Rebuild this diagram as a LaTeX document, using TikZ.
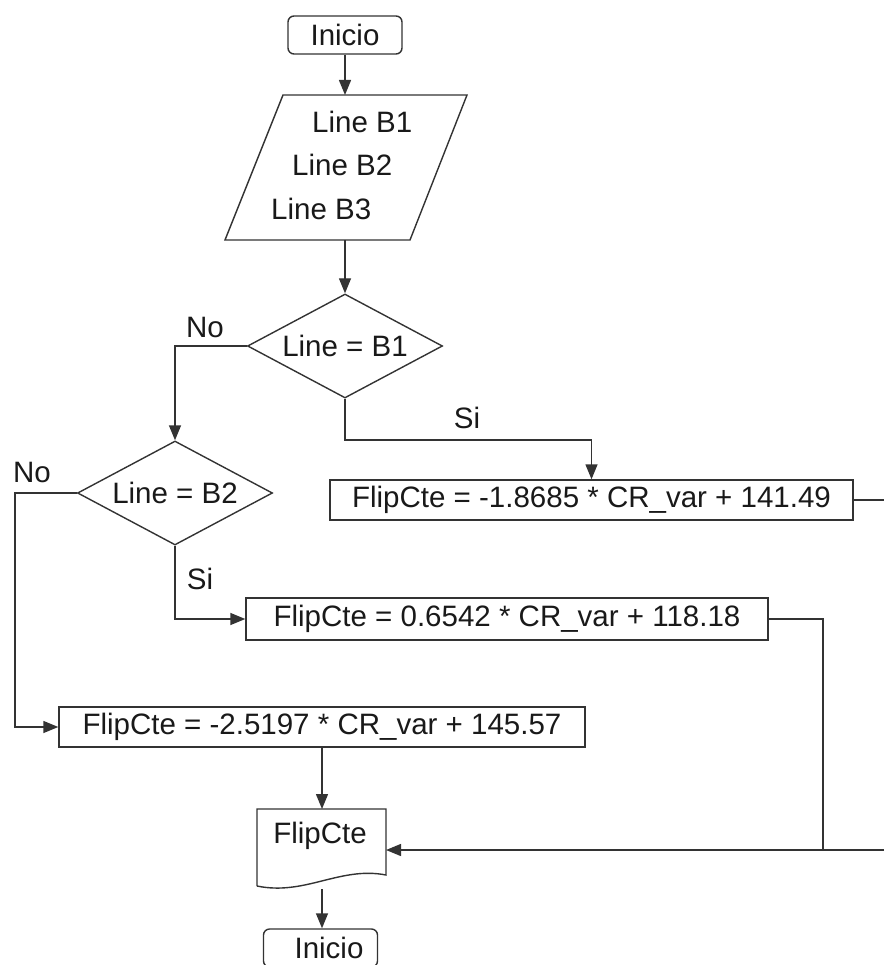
\documentclass[tikz,border=0pt]{standalone}
\usepackage{fontspec}
\setmainfont{Liberation Sans}
\usetikzlibrary{shapes.geometric,arrows.meta}
\begin{document}
\begin{tikzpicture}[x=1pt,y=-1pt,
  every node/.style={font=\fontsize{29.5}{34}\selectfont, inner sep=0pt, text=black!90},
  ln/.style={line width=1.4pt, draw=black!80},
  arr/.style={ln, -{Triangle[length=15pt,width=12pt]}},
  term/.style={ln, rounded corners=6pt, minimum width=114pt, minimum height=38pt},
  proc/.style={ln, minimum height=41pt},
  dec/.style={ln, diamond, minimum width=195pt, minimum height=104pt, aspect=1.875}]
\useasboundingbox (0,0) rectangle (884,965);
% terminal
\node[term] (start) at (345,35) {Inicio};
% input parallelogram
\draw[ln] (283,95) -- (467,95) -- (410,240) -- (225,240) -- cycle;
\coordinate (pT) at (345,95);
\coordinate (pB) at (345,240);
\node[anchor=west] (t1) at (312,122) {Line B1};
\node[anchor=west] (t2) at (292,165) {Line B2};
\node[anchor=west] (t3) at (271,209) {Line B3};
% decisions
\node[dec] (d1) at (345,346) {Line = B1};
\node[dec] (d2) at (175,493) {Line = B2};
% process boxes
\node[proc, minimum width=523pt, minimum height=40pt] (b1) at (591.5,500) {FlipCte = -1.8685 * CR\_var + 141.49};
\node[proc, minimum width=522pt, minimum height=42pt] (b2) at (507,619) {FlipCte = 0.6542 * CR\_var + 118.18};
\node[proc, minimum width=526pt, minimum height=40pt] (b3) at (322,727) {FlipCte = -2.5197 * CR\_var + 145.57};
% document
\draw[ln] (257,886) -- (257,809) -- (386,809) -- (386,875)
  .. controls (340,866) and (305,896) .. (257,886);
\node (doc) at (320,836) {FlipCte};
\coordinate (docT) at (322,809);
\coordinate (docB) at (322,889);
\coordinate (docR) at (386,850);
% end terminal
\node[term] (end) at (320.5,948) {\hspace*{17pt}Inicio};
% labels
\node (no1) at (205,327) {No};
\node (si1) at (467,418) {Si};
\node (no2) at (32,472) {No};
\node (si2) at (200,579) {Si};
% helper coordinates
\coordinate (k1) at (591.5,440);
\coordinate (k2) at (15,493);
\coordinate (r1) at (884,500);
\coordinate (j) at (823,850);
\coordinate (r2) at (884,850);
% connectors
\draw[arr] (start) -- (pT);
\draw[arr] (pB) -- (d1);
\draw[arr] (d1.west) -| (d2.north);
\draw[arr] (d1.south) |- (k1) -- (b1.north);
\draw[arr] (d2.west) -- (k2) |- (b3.west);
\draw[arr] (d2.south) |- (b2.west);
\draw[ln] (b1.east) -- (r1);
\draw[ln] (b2.east) -| (j);
\draw[arr] (r2) -- (docR);
\draw[arr] (b3.south) -- (docT);
\draw[arr] (docB) -- (docB|-end.north);
\end{tikzpicture}
\end{document}
